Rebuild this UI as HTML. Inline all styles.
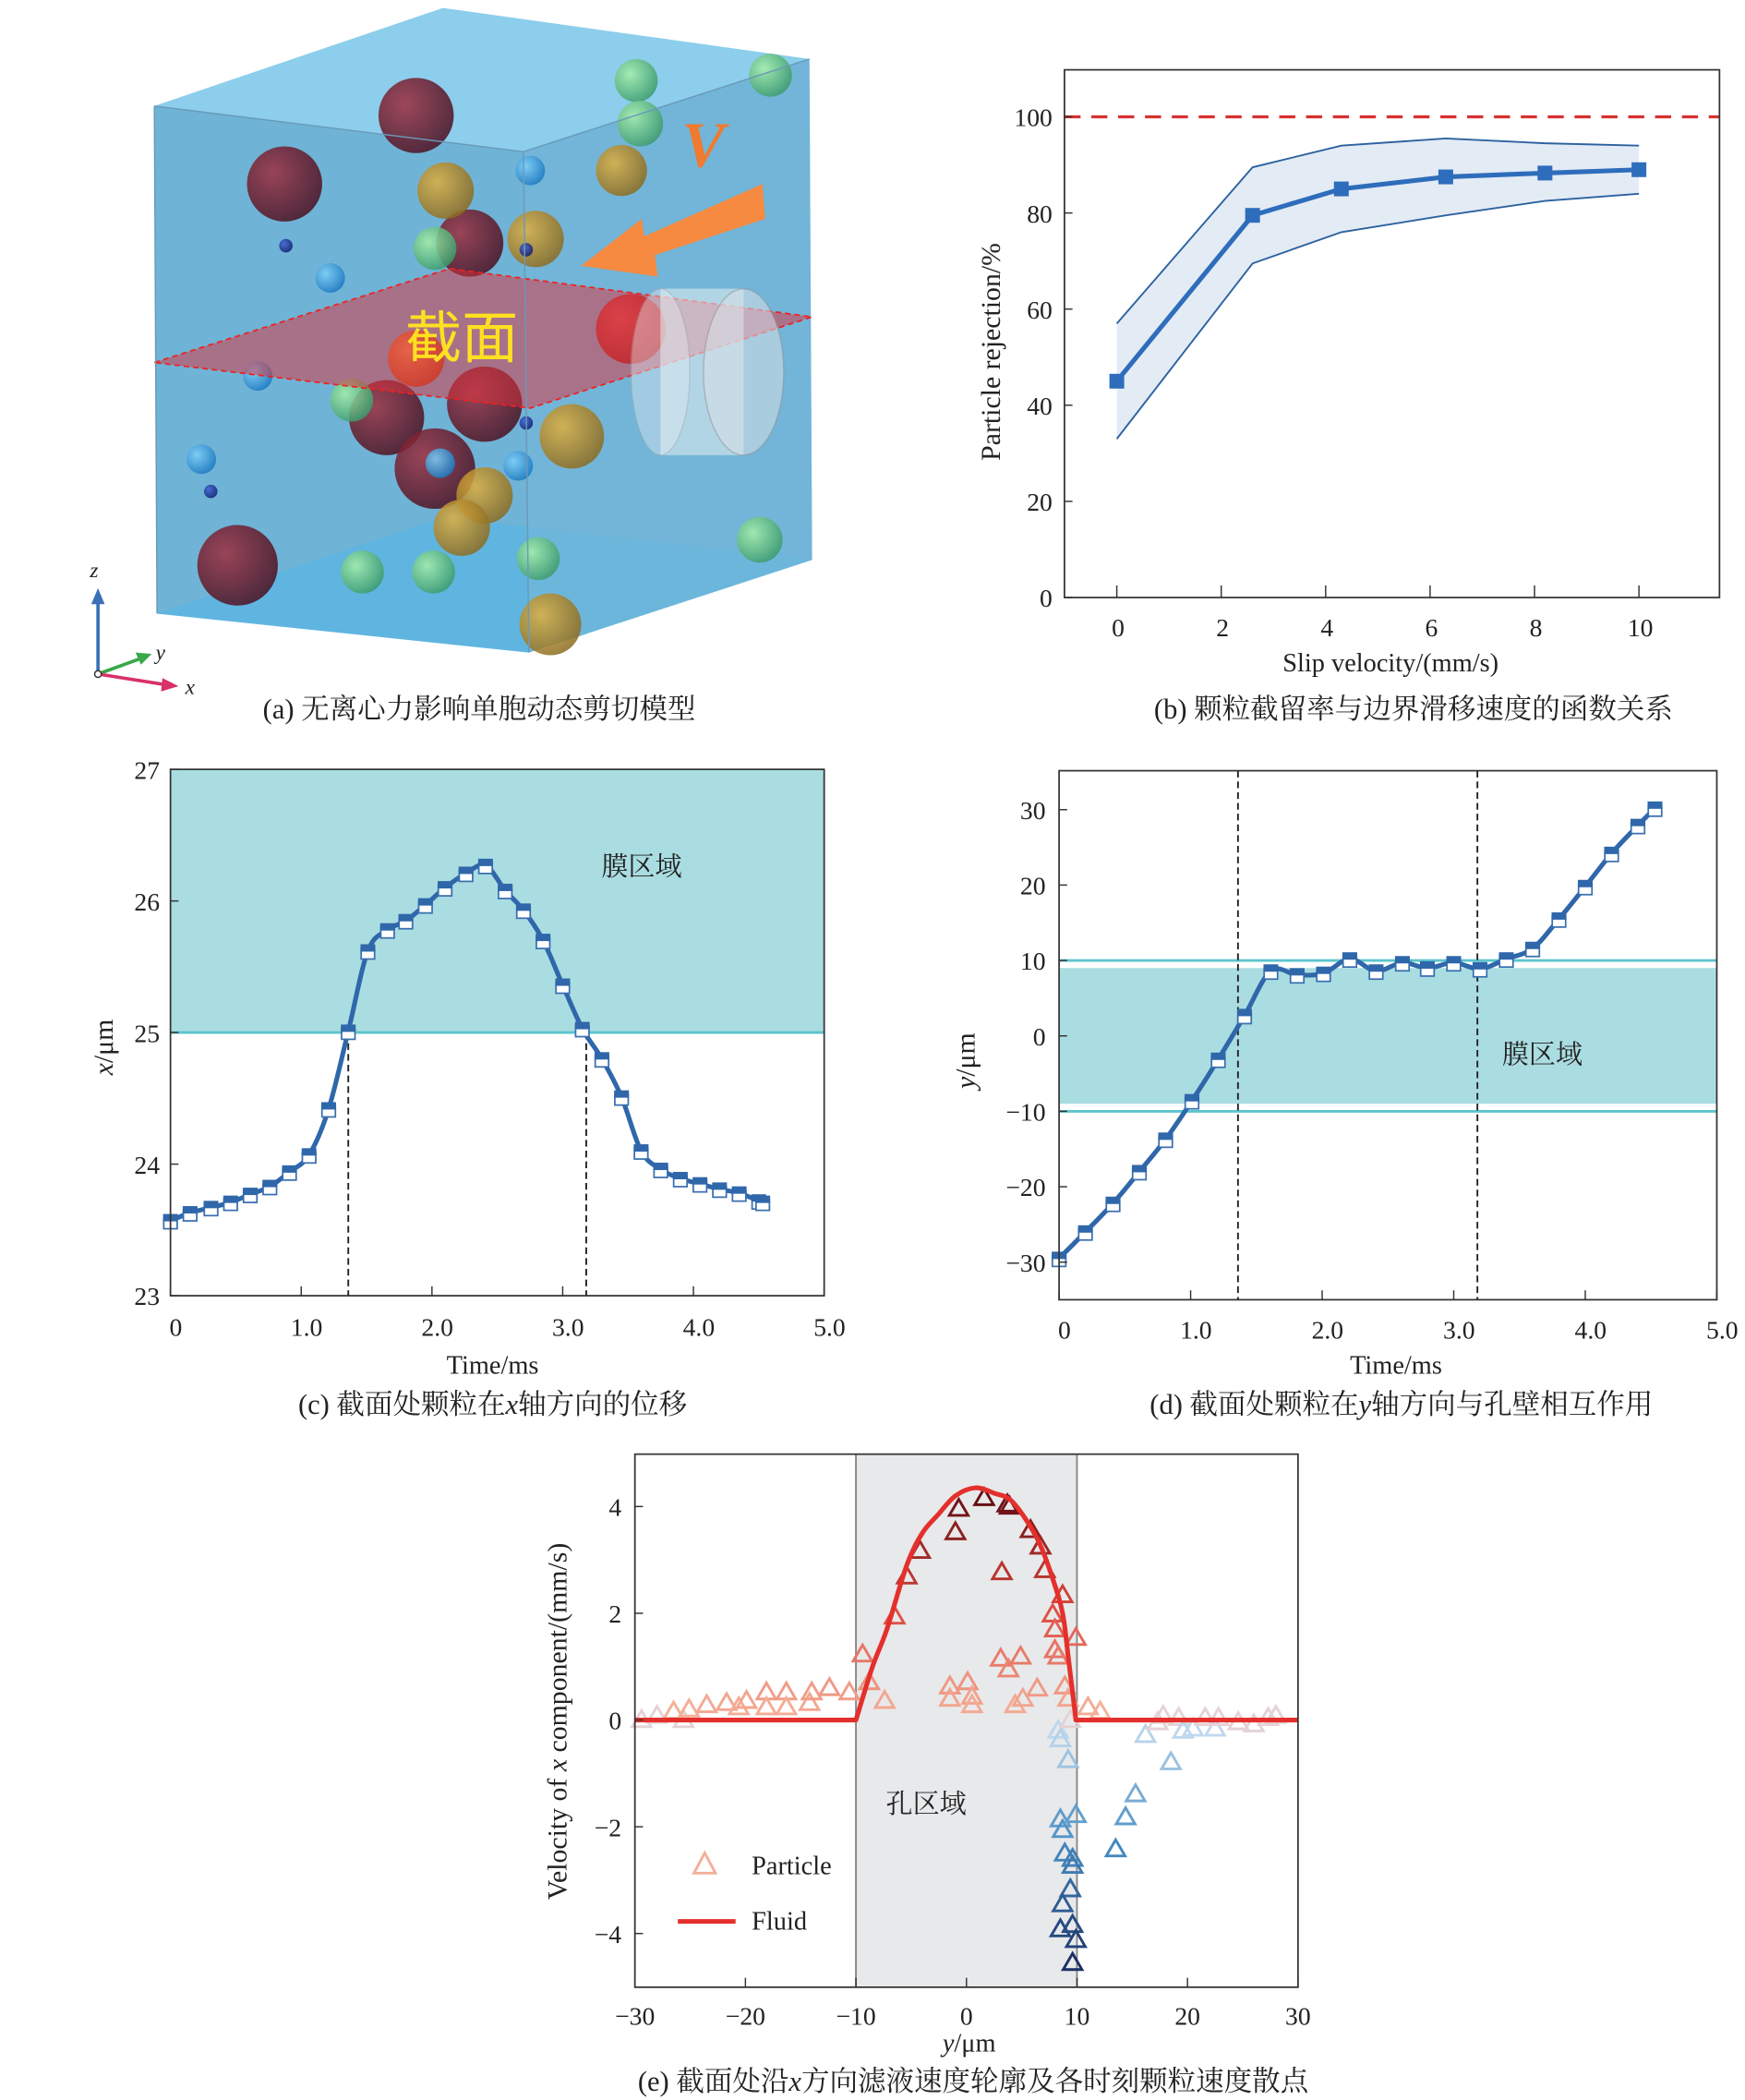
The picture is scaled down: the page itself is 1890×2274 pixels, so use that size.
<!DOCTYPE html>
<html><head><meta charset="utf-8"><style>
html,body{margin:0;padding:0;background:#fff;}
svg{display:block;}
text{font-family:"Liberation Serif","Noto Serif CJK SC","Noto Sans CJK SC",serif;fill:#222;}
</style></head><body>
<svg id="fig" xmlns="http://www.w3.org/2000/svg" width="1890" height="2274" viewBox="0 0 1300 1564" preserveAspectRatio="none">
<defs>
<radialGradient id="gDR" cx="35%" cy="35%" r="70%"><stop offset="0" stop-color="#a03040"/><stop offset="1" stop-color="#4a1020"/></radialGradient>
<radialGradient id="gR" cx="35%" cy="35%" r="70%"><stop offset="0" stop-color="#e84040"/><stop offset="1" stop-color="#a01818"/></radialGradient>
<radialGradient id="gGo" cx="35%" cy="35%" r="70%"><stop offset="0" stop-color="#e0b040"/><stop offset="1" stop-color="#8a6a20"/></radialGradient>
<radialGradient id="gGr" cx="35%" cy="35%" r="70%"><stop offset="0" stop-color="#a8f0a8"/><stop offset="1" stop-color="#3a9a6a"/></radialGradient>
<radialGradient id="gB" cx="35%" cy="35%" r="70%"><stop offset="0" stop-color="#7fd0f8"/><stop offset="1" stop-color="#1a78c0"/></radialGradient>
<radialGradient id="gN" cx="35%" cy="35%" r="70%"><stop offset="0" stop-color="#4060d0"/><stop offset="1" stop-color="#101a70"/></radialGradient>
<radialGradient id="gO" cx="35%" cy="35%" r="70%"><stop offset="0" stop-color="#ff9040"/><stop offset="1" stop-color="#c04010"/></radialGradient>
</defs>
<!-- Panel a -->
<g id="panelA">
  <polygon points="115,79 330,6 603,44 605,417 394,486 117,457" fill="#6fb3d6"/>
  <polygon points="115,79 330,6 603,44 390,113" fill="#8fd0ee" opacity="0.9"/>
  <polygon points="117,457 330,385 605,417 394,486" fill="#55b6e6" opacity="0.6"/>
  <polygon points="390,113 603,44 605,417 394,486" fill="#74b6d8" opacity="0.7"/>
  <g id="balls"></g>
  <polygon points="115,270 335,200 605,236 395,304" fill="#e0303a" fill-opacity="0.5" stroke="#f02020" stroke-dasharray="4,3" stroke-width="1.2"/>
  <g>
    <rect x="492" y="215" width="62" height="124" fill="#e8eef2" opacity="0.55"/>
    <ellipse cx="492" cy="277" rx="22" ry="62" fill="#e8eef2" opacity="0.4" stroke="#aaa"/>
    <ellipse cx="554" cy="277" rx="30" ry="62" fill="#d8e0e6" opacity="0.55" stroke="#999"/>
  </g>
  <polyline points="115,79 390,113 603,44" fill="none" stroke="#6a9ab8" stroke-width="1"/>
  <polyline points="390,113 394,486" fill="none" stroke="#6a9ab8" stroke-width="1"/>
  <polyline points="117,457 115,79" fill="none" stroke="#6a9ab8" stroke-width="1"/>
  <polygon points="433,198 478,163 480,176 568,137 570,163 488,190 490,206" fill="#f58a40"/>
  <text x="508" y="124" font-size="48" font-style="italic" font-weight="bold" style="fill:#f07a30">V</text>
  <text x="302" y="266" font-size="42" style="fill:#ffe020;font-family:'Noto Sans CJK SC',sans-serif">截面</text>
  <g>
    <line x1="73" y1="502" x2="73" y2="446" stroke="#3a70b8" stroke-width="2.5"/><polygon points="73,438 68,450 78,450" fill="#3a70b8"/>
    <line x1="73" y1="502" x2="106" y2="490" stroke="#38a848" stroke-width="2.5"/><polygon points="113,487 101,486 105,495" fill="#38a848"/>
    <line x1="73" y1="502" x2="124" y2="510" stroke="#d8306a" stroke-width="2.5"/><polygon points="133,511 121,505 120,515" fill="#d8306a"/>
    <circle cx="73" cy="502" r="2.5" fill="#fff" stroke="#333"/>
    <text x="67" y="430" font-size="16" font-style="italic">z</text>
    <text x="116" y="491" font-size="16" font-style="italic">y</text>
    <text x="138" y="517" font-size="16" font-style="italic">x</text>
  </g>
  <text x="357" y="535" font-size="21" text-anchor="middle">(a) 无离心力影响单胞动态剪切模型</text>
</g>
<g id="panelB"></g>
<g id="panelC"></g>
<g id="panelD"></g>
<g id="panelE"></g>
</svg>
<script>
// ---------- Panel b data ----------
const slipVel = [0, 2.6, 4.3, 6.3, 8.2, 10];
const rejMean = [45, 79.5, 85, 87.5, 88.3, 89];
const rejUpper = [57, 89.5, 94, 95.5, 94.5, 94];
const rejLower = [33, 69.5, 76, 79.5, 82.5, 84];
const rejTicksY = [0, 20, 40, 60, 80, 100];
const slipTicksX = [0, 2, 4, 6, 8, 10];
const rejLimit = [100];
// ---------- Panel c data ----------
const timeC = [0,0.15,0.31,0.46,0.61,0.76,0.91,1.06,1.21,1.36,1.51,1.66,1.80,1.95,2.10,2.26,2.41,2.56,2.70,2.85,3.00,3.15,3.30,3.45,3.60,3.75,3.90,4.05,4.20,4.35,4.50,4.53];
const posX = [23.57,23.63,23.67,23.71,23.77,23.83,23.94,24.07,24.42,25.01,25.62,25.78,25.85,25.97,26.10,26.21,26.27,26.08,25.93,25.70,25.36,25.03,24.80,24.51,24.10,23.96,23.89,23.85,23.81,23.78,23.72,23.71];
const cTicksY = [23, 24, 25, 26, 27];
const cTicksX = [0, 1, 2, 3, 4, 5];
const cCrossTimes = [1.36, 3.18];
const cMembraneEdge = [25];
// ---------- Panel d data ----------
const timeD = [0,0.2,0.41,0.61,0.81,1.01,1.21,1.41,1.61,1.81,2.01,2.21,2.41,2.61,2.80,3.0,3.2,3.4,3.6,3.8,4.0,4.2,4.4,4.53];
const posY = [-29.5,-26,-22.2,-18,-13.7,-8.6,-3.1,2.7,8.6,8.1,8.3,10.2,8.6,9.7,9.0,9.7,8.9,10.2,11.6,15.5,19.8,24.2,27.9,30.2];
const dTicksY = [-30,-20,-10,0,10,20,30];
const dTicksX = [0,1,2,3,4,5];
const dCrossTimes = [1.36, 3.18];
const dMembrane = [-10, 10];
// ---------- Panel e data ----------
const fluidY = [-30,-10,-8.5,-7.2,-5.4,-4,-2.6,-1,0.8,2.5,4.2,6.4,7.8,8.7,9.2,9.9,30];
const fluidV = [0,0,1.0,1.7,2.9,3.5,3.84,4.2,4.35,4.25,4.08,3.4,2.65,2.0,1.2,0,0];
const partY = [-29.4,-28,-26.5,-25.6,-25.1,-23.5,-21.7,-20.6,-19.9,-18.1,-18.1,-16.3,-16.3,-14.2,-14.0,-12.4,-10.6,-9.4,-8.8,-7.4,-6.5,-5.4,-4.2,-1.0,-0.7,-1.5,-1.5,0.1,0.5,0.5,1.6,3.2,3.1,3.8,4.9,3.7,3.9,4.4,5.1,5.8,6.4,6.7,7.1,7.8,8.0,8.0,8.3,8.7,8.9,9.2,9.9,11.0,12.1,8.3,8.5,9.4,9.2,8.5,8.7,9.9,8.9,9.6,9.6,9.4,8.7,8.5,9.6,9.9,9.6,13.5,14.4,15.3,18.5,16.2,17.3,17.8,19.2,19.6,20.5,21.6,22.5,22.8,24.6,26.0,27.3,28.0];
const partV = [0,0.08,0.16,0,0.2,0.28,0.32,0.24,0.36,0.52,0.24,0.52,0.24,0.32,0.52,0.6,0.52,1.23,0.71,0.36,1.94,2.69,3.17,3.52,3.96,0.63,0.4,0.71,0.44,0.28,4.16,2.77,1.15,0.95,1.19,4.04,4.0,0.28,0.4,3.56,0.59,3.25,2.81,1.98,1.7,1.31,1.19,2.34,0.63,0.4,1.54,0.24,0.16,-0.2,-0.36,0,-0.75,-1.86,-2.06,-1.78,-2.5,-2.6,-2.73,-3.17,-3.45,-3.92,-3.84,-4.12,-4.55,-2.42,-1.82,-1.39,-0.79,-0.28,-0.04,0.08,0.04,-0.2,-0.16,0.04,-0.16,0.04,-0.04,-0.08,0.04,0.08];
const eTicksY = [-4,-2,0,2,4];
const eTicksX = [-30,-20,-10,0,10,20,30];
const eTickLabelsY = ["\u22124","\u22122","0","2","4"];
const eTickLabelsX = ["\u221230","\u221220","\u221210","0","10","20","30"];
const porePos = [-10, 10];

const NS = "http://www.w3.org/2000/svg";
function mk(parent, tag, attrs, txt){
  const el = document.createElementNS(NS, tag);
  for (const k in attrs) el.setAttribute(k, attrs[k]);
  if (txt !== undefined) el.textContent = txt;
  parent.appendChild(el);
  return el;
}
function lin(d0,d1,r0,r1){ return v => r0 + (v-d0)/(d1-d0)*(r1-r0); }
function smoothPath(pts){
  let d = "M"+pts[0][0]+","+pts[0][1];
  for (let i=0;i<pts.length-1;i++){
    const p0=pts[Math.max(0,i-1)], p1=pts[i], p2=pts[i+1], p3=pts[Math.min(pts.length-1,i+2)];
    const c1=[p1[0]+(p2[0]-p0[0])/6, p1[1]+(p2[1]-p0[1])/6];
    const c2=[p2[0]-(p3[0]-p1[0])/6, p2[1]-(p3[1]-p1[1])/6];
    d += " C"+c1[0]+","+c1[1]+" "+c2[0]+","+c2[1]+" "+p2[0]+","+p2[1];
  }
  return d;
}

// ---------- Panel a balls ----------
(function(){
  const g = document.getElementById('balls');
  const balls = [
    ["gDR",310,86,28],["gDR",212,137,28],["gDR",350,181,25],["gDR",177,421,30],["gDR",288,311,28],["gDR",324,349,30],["gDR",361,301,28],["gR",470,245,26],
    ["gGo",332,142,21],["gGo",399,178,21],["gGo",463,127,19],["gGo",426,325,24],["gGo",361,369,21],["gGo",344,393,21],["gGo",410,465,23],
    ["gO",310,267,21],
    ["gGr",474,60,16],["gGr",574,56,16],["gGr",477,92,17],["gGr",324,185,16],["gGr",262,298,16],["gGr",270,426,16],["gGr",323,426,16],["gGr",401,416,16],["gGr",566,402,17],
    ["gB",395,127,11],["gB",246,207,11],["gB",192,280,11],["gB",150,342,11],["gB",328,345,11],["gB",386,347,11],
    ["gN",213,183,5],["gN",392,186,5],["gN",157,366,5],["gN",392,315,5]
  ];
  balls.forEach(b=>{
    const c = mk(g,'circle',{cx:b[1],cy:b[2],r:b[3],fill:'url(#'+b[0]+')',opacity:0.85});
    
    
  });
})();

// ---------- Panel b ----------
(function(){
  const g = document.getElementById('panelB');
  const L=793,R=1281,T=52,B=445;
  const sx = lin(0,10,832,1221), sy = lin(0,100,445,87);
  const up = slipVel.map((v,i)=>sx(v)+","+sy(rejUpper[i]));
  const lo = slipVel.map((v,i)=>sx(v)+","+sy(rejLower[i])).reverse();
  const band = mk(g,'polygon',{points:up.concat(lo).join(" "),fill:"#e3ebf5"});
  
  
  const ul = mk(g,'polyline',{points:up.join(" "),fill:"none",stroke:"#2d62a0","stroke-width":1.3});
  
  
  const ll = mk(g,'polyline',{points:lo.join(" "),fill:"none",stroke:"#2d62a0","stroke-width":1.3});
  
  
  const lim = mk(g,'line',{x1:L,x2:R,y1:sy(rejLimit[0]),y2:sy(rejLimit[0]),stroke:"#d93030","stroke-width":2.2,"stroke-dasharray":"12,8"});
  
  
  const ml = mk(g,'polyline',{points:slipVel.map((v,i)=>sx(v)+","+sy(rejMean[i])).join(" "),fill:"none",stroke:"#2e6dbb","stroke-width":3.5});
  
  
  slipVel.forEach((v,i)=>{
    const m = mk(g,'rect',{x:sx(v)-5.5,y:sy(rejMean[i])-5.5,width:11,height:11,fill:"#2e6dbb"});
    
    
  });
  const box = mk(g,'rect',{x:L,y:T,width:R-L,height:B-T,fill:"none",stroke:"#333","stroke-width":1.2});
  
  
  rejTicksY.forEach(t=>{
    mk(g,'line',{x1:L,x2:L+6,y1:sy(t),y2:sy(t),stroke:"#333"});
    const tx = mk(g,'text',{x:L-9,y:sy(t)+7,"font-size":19,"text-anchor":"end"},String(t));
    
    
  });
  slipTicksX.forEach(t=>{
    mk(g,'line',{x1:sx(t),x2:sx(t),y1:B,y2:B-9,stroke:"#333"});
    const tx = mk(g,'text',{x:sx(t)+1,y:474,"font-size":19,"text-anchor":"middle"},String(t));
    
    
  });
  const yt = mk(g,'text',{x:0,y:0,"font-size":20.5,"text-anchor":"middle",transform:"translate(745,262) rotate(-90)"},"Particle rejection/%");
  
  
  const xt = mk(g,'text',{x:1036,y:500,"font-size":19.5,"text-anchor":"middle"},"Slip velocity/(mm/s)");
  
  
  const cap = mk(g,'text',{x:1053,y:535,"font-size":21,"text-anchor":"middle"},"(b) 颗粒截留率与边界滑移速度的函数关系");
  
  
})();

function markers(g, pts){
  pts.forEach(p=>{
    const w = mk(g,'rect',{x:p[0]-5,y:p[1]-2,width:10,height:8,fill:"#fff",stroke:"#3a6fb0","stroke-width":1.2});
    
    
    const f = mk(g,'rect',{x:p[0]-5.5,y:p[1]-5,width:11,height:5.5,fill:"#2f67aa"});
    
    
  });
}

// ---------- Panel c ----------
(function(){
  const g = document.getElementById('panelC');
  const L=127,R=614,T=573,B=965;
  const sx = lin(0,5,L,R), sy = lin(23,27,B,T);
  const mem = mk(g,'rect',{x:L,y:T,width:R-L,height:sy(cMembraneEdge[0])-T,fill:"#aadde1"});
  
  
  const ml = mk(g,'line',{x1:L,x2:R,y1:sy(cMembraneEdge[0]),y2:sy(cMembraneEdge[0]),stroke:"#5cc4cd","stroke-width":2});
  
  
  cCrossTimes.forEach(t=>{
    const d = mk(g,'line',{x1:sx(t),x2:sx(t),y1:sy(cMembraneEdge[0]),y2:B,stroke:"#222","stroke-width":1.3,"stroke-dasharray":"5,3"});
    
    
  });
  const pts = timeC.map((t,i)=>[sx(t),sy(posX[i])]);
  const p = mk(g,'path',{d:smoothPath(pts),fill:"none",stroke:"#2f67aa","stroke-width":3.5});
  
  
  markers(g, pts);
  const box = mk(g,'rect',{x:L,y:T,width:R-L,height:B-T,fill:"none",stroke:"#333","stroke-width":1.2});
  
  
  cTicksY.forEach(t=>{
    mk(g,'line',{x1:L,x2:L+6,y1:sy(t),y2:sy(t),stroke:"#333"});
    const tx = mk(g,'text',{x:L-8,y:sy(t)+7,"font-size":19,"text-anchor":"end"},String(t));
    
    
  });
  cTicksX.forEach(t=>{
    mk(g,'line',{x1:sx(t),x2:sx(t),y1:B,y2:B-7,stroke:"#333"});
    const tx = mk(g,'text',{x:sx(t)+4,y:995,"font-size":19,"text-anchor":"middle"},t===0?"0":t.toFixed(1));
    
    
  });
  const lab = mk(g,'text',{x:478,y:652,"font-size":20,"text-anchor":"middle"},"膜区域");
  
  
  const yt = mk(g,'text',{x:0,y:0,"font-size":20.5,"text-anchor":"middle",transform:"translate(84,780) rotate(-90)"});
  
  
  mk(yt,'tspan',{"font-style":"italic"},"x");
  mk(yt,'tspan',{},"/μm");
  const xt = mk(g,'text',{x:367,y:1023,"font-size":19.5,"text-anchor":"middle"},"Time/ms");
  
  
  const cap = mk(g,'text',{x:367,y:1053,"font-size":21,"text-anchor":"middle"});
  
  
  mk(cap,'tspan',{},"(c) 截面处颗粒在");
  mk(cap,'tspan',{"font-style":"italic"},"x");
  mk(cap,'tspan',{},"轴方向的位移");
})();

// ---------- Panel d ----------
(function(){
  const g = document.getElementById('panelD');
  const L=789,R=1279,T=574,B=968;
  const sx = lin(0,5,L,R), sy = lin(-30,30,940,603);
  const mem = mk(g,'rect',{x:L,y:sy(dMembrane[1]*0.9),width:R-L,height:sy(dMembrane[0]*0.9)-sy(dMembrane[1]*0.9),fill:"#aadde1"});
  
  
  dMembrane.forEach(v=>{
    const l = mk(g,'line',{x1:L,x2:R,y1:sy(v),y2:sy(v),stroke:"#5cc4cd","stroke-width":2});
    
    
  });
  dCrossTimes.forEach(t=>{
    const d = mk(g,'line',{x1:sx(t),x2:sx(t),y1:T,y2:B,stroke:"#222","stroke-width":1.3,"stroke-dasharray":"5,3"});
    
    
  });
  const pts = timeD.map((t,i)=>[sx(t),sy(posY[i])]);
  const p = mk(g,'path',{d:smoothPath(pts),fill:"none",stroke:"#2f67aa","stroke-width":3.5});
  
  
  markers(g, pts);
  const box = mk(g,'rect',{x:L,y:T,width:R-L,height:B-T,fill:"none",stroke:"#333","stroke-width":1.2});
  
  
  dTicksY.forEach(t=>{
    mk(g,'line',{x1:L,x2:L+6,y1:sy(t),y2:sy(t),stroke:"#333"});
    const tx = mk(g,'text',{x:L-10,y:sy(t)+7,"font-size":19,"text-anchor":"end"},t<0?"\u2212"+(-t):String(t));
    
    
  });
  dTicksX.forEach(t=>{
    mk(g,'line',{x1:sx(t),x2:sx(t),y1:B,y2:B-7,stroke:"#333"});
    const tx = mk(g,'text',{x:sx(t)+4,y:997,"font-size":19,"text-anchor":"middle"},t===0?"0":t.toFixed(1));
    
    
  });
  const lab = mk(g,'text',{x:1149,y:792,"font-size":20,"text-anchor":"middle"},"膜区域");
  
  
  const yt = mk(g,'text',{x:0,y:0,"font-size":20.5,"text-anchor":"middle",transform:"translate(726,790) rotate(-90)"});
  
  
  mk(yt,'tspan',{"font-style":"italic"},"y");
  mk(yt,'tspan',{},"/μm");
  const xt = mk(g,'text',{x:1040,y:1023,"font-size":19.5,"text-anchor":"middle"},"Time/ms");
  
  
  const cap = mk(g,'text',{x:1044,y:1053,"font-size":21,"text-anchor":"middle"});
  
  
  mk(cap,'tspan',{},"(d) 截面处颗粒在");
  mk(cap,'tspan',{"font-style":"italic"},"y");
  mk(cap,'tspan',{},"轴方向与孔壁相互作用");
})();

// ---------- Panel e ----------
function mix(a,b,t){ return [0,1,2].map(i=>Math.round(a[i]+(b[i]-a[i])*t)); }
function colorFor(v){
  let c;
  if (v > 0.1){ const t=Math.min(1,(v-0.1)/4.1); c = t<0.5 ? mix([246,180,156],[220,70,60],t*2) : mix([220,70,60],[100,15,20],(t-0.5)*2); }
  else if (v < -0.1){ const t=Math.min(1,(-v)/4.6); c = t<0.5 ? mix([200,222,240],[70,140,195],t*2) : mix([70,140,195],[25,45,100],(t-0.5)*2); }
  else c=[228,210,214];
  return "rgb("+c.join(",")+")";
}
(function(){
  const g = document.getElementById('panelE');
  const L=473,R=967,T=1083,B=1480;
  const sx = lin(-30,30,L,R), sy = lin(-4,4,1440,1122);
  const pore = mk(g,'rect',{x:sx(porePos[0]),y:T,width:sx(porePos[1])-sx(porePos[0]),height:B-T,fill:"#e8e9eb"});
  
  
  porePos.forEach(v=>{
    const l = mk(g,'line',{x1:sx(v),x2:sx(v),y1:T,y2:B,stroke:"#888","stroke-width":1.3});
    
    
  });
  partY.forEach((y,i)=>{
    const x=sx(y), yy=sy(partV[i]);
    const tri = mk(g,'polygon',{points:(x)+","+(yy-7)+" "+(x-7)+","+(yy+5)+" "+(x+7)+","+(yy+5),fill:"none",stroke:colorFor(partV[i]),"stroke-width":2});
    
    
  });
  const fpts = fluidY.map((y,i)=>[sx(y),sy(fluidV[i])]);
  const inner = fpts.slice(1, fpts.length-1);
  const fd = "M"+fpts[0][0]+","+fpts[0][1]+" L"+inner[0][0]+","+inner[0][1]+smoothPath(inner).replace(/^M[^ C]+/,"")+" L"+fpts[fpts.length-1][0]+","+fpts[fpts.length-1][1];
  const fl = mk(g,'path',{d:fd,fill:"none",stroke:"#e4302c","stroke-width":3.5,"stroke-linejoin":"round"});
  
  
  const box = mk(g,'rect',{x:L,y:T,width:R-L,height:B-T,fill:"none",stroke:"#333","stroke-width":1.2});
  
  
  eTicksY.forEach((t,i)=>{
    mk(g,'line',{x1:L,x2:L+6,y1:sy(t),y2:sy(t),stroke:"#333"});
    const tx = mk(g,'text',{x:L-10,y:sy(t)+7,"font-size":19,"text-anchor":"end"},eTickLabelsY[i]);
    
    
  });
  eTicksX.forEach((t,i)=>{
    mk(g,'line',{x1:sx(t),x2:sx(t),y1:B,y2:B-7,stroke:"#333"});
    const tx = mk(g,'text',{x:sx(t),y:1508,"font-size":19,"text-anchor":"middle"},eTickLabelsX[i]);
    
    
  });
  const lab = mk(g,'text',{x:690,y:1350,"font-size":20,"text-anchor":"middle"},"孔区域");
  
  
  const lt = mk(g,'polygon',{points:"525,1380 517,1395 533,1395",fill:"none",stroke:"#f2b09a","stroke-width":2});
  
  
  const lpt = mk(g,'text',{x:560,y:1396,"font-size":19.5},"Particle");
  
  
  const ll = mk(g,'line',{x1:505,x2:548,y1:1431,y2:1431,stroke:"#e4302c","stroke-width":3.5});
  
  
  const lft = mk(g,'text',{x:560,y:1437,"font-size":19.5},"Fluid");
  
  
  const yt = mk(g,'text',{x:0,y:0,"font-size":20.5,"text-anchor":"middle",transform:"translate(422,1282) rotate(-90)"});
  
  
  mk(yt,'tspan',{},"Velocity of ");
  mk(yt,'tspan',{"font-style":"italic"},"x");
  mk(yt,'tspan',{}," component/(mm/s)");
  const xt = mk(g,'text',{x:722,y:1528,"font-size":19.5,"text-anchor":"middle"});
  
  
  mk(xt,'tspan',{"font-style":"italic"},"y");
  mk(xt,'tspan',{},"/μm");
  const cap = mk(g,'text',{x:725,y:1557,"font-size":21,"text-anchor":"middle"});
  
  
  mk(cap,'tspan',{},"(e) 截面处沿");
  mk(cap,'tspan',{"font-style":"italic"},"x");
  mk(cap,'tspan',{},"方向滤液速度轮廓及各时刻颗粒速度散点");
})();
</script>
</body></html>
